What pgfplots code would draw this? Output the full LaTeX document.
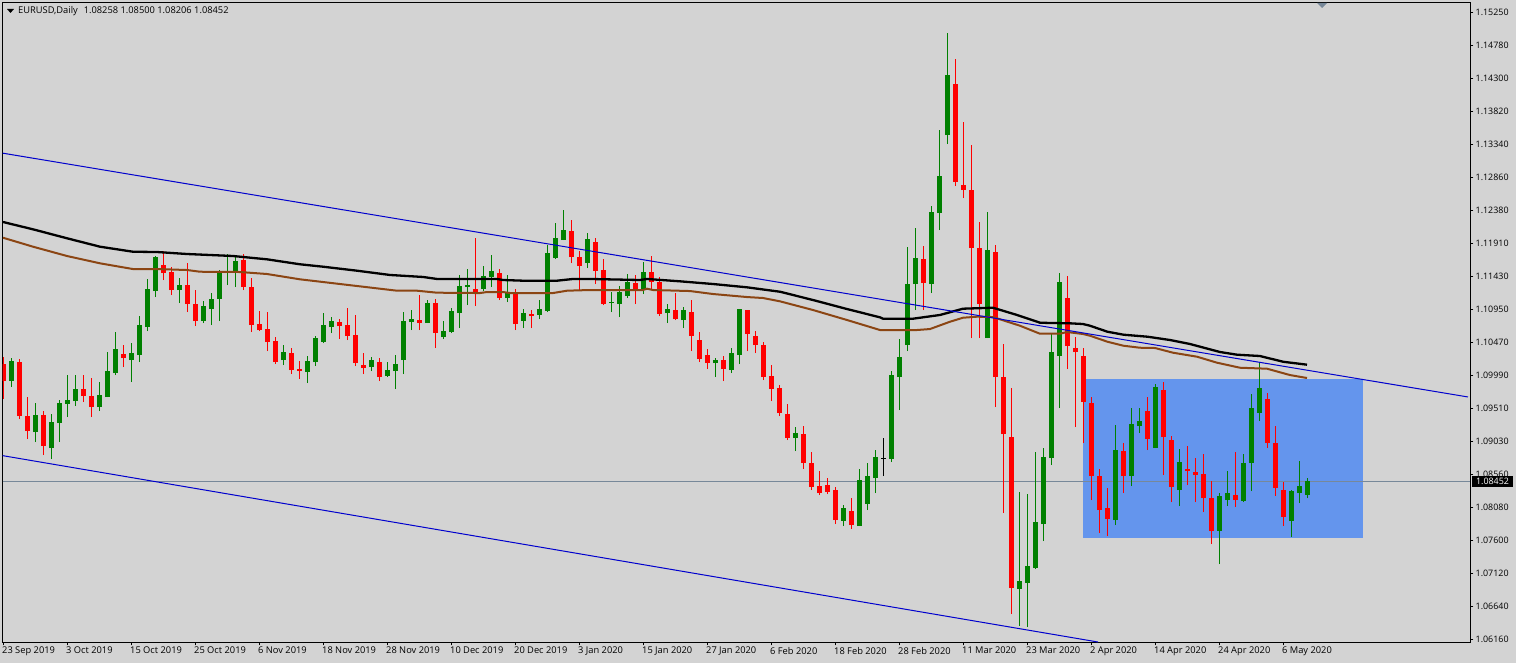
\documentclass[border=0pt]{standalone}
\usepackage{fontspec}
\setmainfont{Open Sans}
\usepackage{pgfplots}
\usepackage{pgfplotstable}
\pgfplotsset{compat=1.18}
\definecolor{chartbg}{RGB}{211,211,211}
\definecolor{upgreen}{RGB}{0,128,0}
\definecolor{downred}{RGB}{255,0,0}
\definecolor{boxblue}{RGB}{100,149,237}
\definecolor{trendblue}{RGB}{0,0,205}
\definecolor{maBrown}{RGB}{139,69,19}
\definecolor{slate}{RGB}{119,136,153}
\newcommand{\chartfont}{\fontsize{8.9}{11}\selectfont}
\newcommand{\datefont}{\fontsize{9.3}{11}\selectfont}
% columns: bar index, body top, body bottom, high, low
\pgfplotstableread{
i top bot high low
0 1.10153 1.09906 1.10254 1.09645
2 1.10182 1.09399 1.10225 1.09355
3 1.09399 1.09181 1.09674 1.09065
5 1.09413 1.08964 1.09471 1.08833
10 1.09790 1.09689 1.09993 1.09602
11 1.09689 1.09529 1.09950 1.09384
15 1.10298 1.10240 1.10428 1.10109
20 1.11588 1.11472 1.11791 1.11371
21 1.11487 1.11226 1.11559 1.11153
23 1.11298 1.11023 1.11617 1.10907
24 1.11023 1.10776 1.11226 1.10704
30 1.11661 1.11269 1.11748 1.11226
31 1.11269 1.10718 1.11400 1.10617
32 1.10733 1.10646 1.10921 1.10631
33 1.10660 1.10472 1.10907 1.10341
34 1.10486 1.10182 1.10544 1.10153
36 1.10312 1.10066 1.10385 1.10008
37 1.10080 1.10051 1.10196 1.09935
42 1.10762 1.10704 1.10805 1.10515
43 1.10718 1.10559 1.10965 1.10501
44 1.10573 1.10167 1.10863 1.10124
45 1.10138 1.10095 1.10312 1.10008
47 1.10182 1.09964 1.10240 1.09906
52 1.10791 1.10747 1.11153 1.10646
54 1.11037 1.10602 1.11095 1.10385
59 1.11240 1.11182 1.11980 1.10994
62 1.11472 1.11110 1.11530 1.11081
64 1.11182 1.10733 1.11240 1.10646
66 1.10878 1.10849 1.10936 1.10675
71 1.12081 1.11704 1.12241 1.11617
72 1.11704 1.11574 1.11791 1.11226
74 1.11922 1.11501 1.11980 1.11313
75 1.11516 1.11023 1.11675 1.11008
79 1.11327 1.11226 1.11443 1.11023
81 1.11487 1.11342 1.11719 1.11240
82 1.11342 1.10878 1.11414 1.10849
84 1.10936 1.10805 1.11182 1.10791
86 1.10907 1.10559 1.11081 1.10341
87 1.10501 1.10225 1.10617 1.10182
88 1.10283 1.10167 1.10370 1.10080
90 1.10211 1.10080 1.10269 1.09906
93 1.10936 1.10588 1.10936 1.10341
94 1.10559 1.10428 1.10631 1.10312
95 1.10428 1.09964 1.10472 1.09921
96 1.09979 1.09790 1.10138 1.09616
97 1.09805 1.09442 1.09848 1.09399
98 1.09428 1.09080 1.09573 1.09051
100 1.09138 1.08717 1.09254 1.08630
101 1.08717 1.08369 1.08877 1.08326
102 1.08384 1.08282 1.08601 1.08253
103 1.08398 1.08297 1.08500 1.08268
104 1.08326 1.07891 1.08369 1.07833
106 1.08021 1.07818 1.08210 1.07760
115 1.11675 1.11327 1.11864 1.10936
119 1.14213 1.12792 1.14575 1.12734
120 1.12748 1.12676 1.13662 1.12560
121 1.12676 1.11835 1.13328 1.10530
122 1.11835 1.11023 1.12212 1.10530
124 1.11777 1.09964 1.11878 1.09529
125 1.09964 1.09138 1.10443 1.07992
126 1.09094 1.06905 1.09805 1.06528
133 1.11110 1.10414 1.11429 1.10080
134 1.10385 1.10327 1.10544 1.09239
135 1.10269 1.09602 1.10385 1.09007
136 1.09587 1.08529 1.09674 1.08181
137 1.08529 1.08036 1.08630 1.07702
138 1.08065 1.07905 1.08355 1.07659
140 1.08891 1.08529 1.09007 1.08282
143 1.09471 1.09065 1.09674 1.08906
145 1.09776 1.09094 1.09892 1.08543
146 1.09051 1.08369 1.09109 1.08152
148 1.08630 1.08601 1.08964 1.08398
149 1.08587 1.08543 1.08790 1.08152
150 1.08558 1.08210 1.08848 1.08007
151 1.08210 1.07731 1.08456 1.07543
154 1.08253 1.08181 1.08877 1.08079
158 1.09645 1.09007 1.09732 1.08935
159 1.09007 1.08355 1.09254 1.08239
160 1.08326 1.07934 1.08442 1.07804
}\downbars
\pgfplotstableread{
i top bot high low
1 1.10196 1.09906 1.10240 1.09819
4 1.09413 1.09167 1.09587 1.09022
6 1.09312 1.08935 1.09428 1.08775
7 1.09587 1.09297 1.09631 1.09022
8 1.09631 1.09573 1.09993 1.09384
9 1.09790 1.09616 1.09993 1.09544
12 1.09703 1.09529 1.09892 1.09471
13 1.10051 1.09674 1.10327 1.09674
14 1.10370 1.10022 1.10617 1.09993
16 1.10312 1.10211 1.10457 1.09892
17 1.10718 1.10283 1.10849 1.10182
18 1.11240 1.10689 1.11385 1.10631
19 1.11704 1.11211 1.11719 1.11124
22 1.11298 1.11226 1.11400 1.11037
25 1.10994 1.10776 1.11066 1.10747
26 1.11095 1.10950 1.11182 1.10718
27 1.11472 1.11095 1.11516 1.10776
28 1.11501 1.11472 1.11748 1.11298
29 1.11646 1.11501 1.11719 1.11269
35 1.10327 1.10211 1.10428 1.10138
38 1.10196 1.10037 1.10269 1.09877
39 1.10530 1.10182 1.10559 1.10124
40 1.10718 1.10472 1.10892 1.10457
41 1.10776 1.10689 1.10834 1.10602
46 1.10211 1.10109 1.10254 1.10051
48 1.10066 1.09979 1.10182 1.09964
49 1.10153 1.10051 1.10283 1.09790
50 1.10776 1.10211 1.10907 1.10008
51 1.10805 1.10762 1.10936 1.10646
53 1.11037 1.10747 1.11081 1.10747
55 1.10631 1.10544 1.10776 1.10515
56 1.10921 1.10617 1.10965 1.10602
57 1.11284 1.10892 1.11443 1.10675
58 1.11298 1.11269 1.11530 1.11008
60 1.11429 1.11240 1.11574 1.11211
61 1.11501 1.11414 1.11733 1.11269
63 1.11182 1.11110 1.11443 1.11052
65 1.10892 1.10776 1.10950 1.10675
67 1.10950 1.10863 1.11081 1.10805
68 1.11762 1.10921 1.11878 1.10907
69 1.11980 1.11690 1.12197 1.11675
70 1.12096 1.11951 1.12386 1.11951
73 1.11965 1.11617 1.12052 1.11545
76 1.11052 1.11037 1.11197 1.10907
77 1.11197 1.11023 1.11284 1.10834
78 1.11342 1.11139 1.11458 1.11110
80 1.11487 1.11240 1.11632 1.11168
83 1.10950 1.10892 1.11023 1.10747
85 1.10936 1.10791 1.10979 1.10675
89 1.10211 1.10167 1.10240 1.09964
91 1.10312 1.10066 1.10385 1.10022
92 1.10950 1.10283 1.10950 1.10153
99 1.09152 1.09080 1.09239 1.08891
105 1.08065 1.07876 1.08108 1.07804
107 1.08471 1.07804 1.08630 1.07804
108 1.08529 1.08123 1.08717 1.08036
109 1.08804 1.08500 1.08906 1.08282
111 1.09993 1.08775 1.10051 1.08732
112 1.10254 1.09964 1.10515 1.09486
113 1.11313 1.10428 1.11849 1.10341
114 1.11690 1.11313 1.12125 1.10936
116 1.12357 1.11313 1.12444 1.11182
117 1.12879 1.12342 1.13546 1.12096
118 1.14343 1.13473 1.14952 1.13343
123 1.11806 1.10530 1.12357 1.10530
127 1.07006 1.06890 1.08297 1.06354
128 1.07224 1.06977 1.08268 1.06339
129 1.07862 1.07195 1.08877 1.07180
130 1.08804 1.07833 1.08935 1.07586
131 1.10327 1.08790 1.10588 1.08688
132 1.11342 1.10269 1.11472 1.09515
139 1.08906 1.07891 1.09268 1.07818
141 1.09283 1.08529 1.09515 1.08384
142 1.09326 1.09254 1.09515 1.09152
144 1.09819 1.08935 1.09863 1.08935
147 1.08732 1.08326 1.08920 1.08094
152 1.08239 1.07731 1.08282 1.07253
153 1.08282 1.08181 1.08601 1.08094
155 1.08717 1.08166 1.08848 1.08152
156 1.09515 1.08717 1.09718 1.08311
157 1.09805 1.09442 1.10182 1.09326
161 1.08311 1.07876 1.08326 1.07644
162 1.08384 1.08282 1.08746 1.08137
163 1.08452 1.08258 1.08500 1.08206
}\upbars
\pgfplotstableread{
i top bot high low
110 1.08797 1.08783 1.09080 1.08529
}\dojibars
\pgfplotstableread{
i v
-0.06 1.12212
3.69 1.12106
7.94 1.11976
12.06 1.11854
16.19 1.11781
19.19 1.11777
22.94 1.11748
28.69 1.11719
32.94 1.11671
37.06 1.11599
39.94 1.11564
44.19 1.11506
48.31 1.11444
52.44 1.11415
54.19 1.11386
61.69 1.11386
62.44 1.11371
64.94 1.11361
69.19 1.11361
71.19 1.11386
73.31 1.11386
79.56 1.11371
80.44 1.11386
84.56 1.11352
88.69 1.11313
92.94 1.11265
97.06 1.11201
101.19 1.11081
105.44 1.10950
109.56 1.10830
109.94 1.10810
113.69 1.10810
117.06 1.10864
119.94 1.10955
123.69 1.10969
126.69 1.10864
129.56 1.10752
130.81 1.10748
133.31 1.10743
134.94 1.10733
135.81 1.10708
138.00 1.10621
140.00 1.10578
143.00 1.10549
145.81 1.10501
148.31 1.10443
152.06 1.10327
154.19 1.10288
157.06 1.10269
159.94 1.10186
162.94 1.10143
}\blackma
\pgfplotstableread{
i v
-0.06 1.11984
3.69 1.11854
7.94 1.11719
12.06 1.11613
16.19 1.11530
19.19 1.11530
22.94 1.11516
24.56 1.11491
29.56 1.11487
32.94 1.11458
37.06 1.11381
39.94 1.11342
44.19 1.11284
49.19 1.11216
51.69 1.11216
54.19 1.11187
59.56 1.11182
60.44 1.11197
62.44 1.11197
63.31 1.11182
68.69 1.11182
70.44 1.11216
73.31 1.11226
79.94 1.11226
80.44 1.11245
81.19 1.11226
85.81 1.11211
88.69 1.11168
92.94 1.11124
94.94 1.11110
97.06 1.11062
101.19 1.10936
105.44 1.10791
109.56 1.10646
114.19 1.10646
115.81 1.10660
118.31 1.10766
119.94 1.10824
121.69 1.10839
123.69 1.10834
127.06 1.10708
129.56 1.10592
132.06 1.10592
132.94 1.10617
134.94 1.10588
135.81 1.10563
138.00 1.10476
140.00 1.10418
142.06 1.10389
143.94 1.10385
146.19 1.10317
149.19 1.10259
151.69 1.10172
154.56 1.10099
157.94 1.10085
160.81 1.09993
162.94 1.09950
}\brownma
\newcommand{\bars}[2]{%
  \addplot[draw=none,mark=none,forget plot,error bars/.cd,y dir=plus,y explicit,error mark=none,
    error bar style={draw=#2,line width=1pt,solid}]
    table[x=i,y=low,y error plus expr=\thisrow{high}-\thisrow{low}] {#1};
  \addplot[draw=none,mark=none,forget plot,error bars/.cd,y dir=plus,y explicit,error mark=none,
    error bar style={draw=#2,line width=5pt,solid}]
    table[x=i,y=bot,y error plus expr=\thisrow{top}-\thisrow{bot}] {#1};
}
\begin{document}
\begin{tikzpicture}[x=1pt,y=1pt]
\fill[chartbg] (0,0) rectangle (1516,663);
\begin{axis}[
  at={(2.5pt,20.5pt)},anchor=south west,
  scale only axis,width=1468pt,height=640pt,
  xmin=-0.125,xmax=183.375,ymin=1.06115,ymax=1.15395,
  axis line style={black,line width=1pt},
  tick align=outside,major tick length=3pt,
  tick style={black,line width=1pt},
  xtick pos=bottom,ytick pos=right,yticklabel pos=right,
  xtick={0,8,16,24,32,40,48,56,64,72,80,88,96,104,112,120,128,136,144,152,160},
  xticklabels={23 Sep 2019,3 Oct 2019,15 Oct 2019,25 Oct 2019,6 Nov 2019,18 Nov 2019,28 Nov 2019,10 Dec 2019,20 Dec 2019,3 Jan 2020,15 Jan 2020,27 Jan 2020,6 Feb 2020,18 Feb 2020,28 Feb 2020,11 Mar 2020,23 Mar 2020,2 Apr 2020,14 Apr 2020,24 Apr 2020,6 May 2020},
  ytick={1.15251,1.147725,1.14294,1.138155,1.13337,1.128585,1.1238,1.119015,1.11423,1.109445,1.10466,1.099875,1.09509,1.090305,1.08552,1.080735,1.07595,1.071165,1.06638,1.061595},
  yticklabels={1.15250,1.14780,1.14300,1.13820,1.13340,1.12860,1.12380,1.11910,1.11430,1.10950,1.10470,1.09990,1.09510,1.09030,1.08560,1.08080,1.07600,1.07120,1.06640,1.06160},
  xticklabel style={font=\datefont,anchor=north west,inner sep=0pt,xshift=-1.5pt,yshift=-1.5pt},
  yticklabel style={font=\chartfont,anchor=west,inner sep=0pt,xshift=2pt},
  clip=true,
]
\addplot[fill=boxblue,draw=none,forget plot] coordinates {(134.94,1.09935) (170.0,1.09935) (170.0,1.07637) (134.94,1.07637)} -- cycle;
\addplot[slate,line width=1pt,forget plot] coordinates {(-0.125,1.08452) (183.375,1.08452)};
\bars{\downbars}{downred}
\bars{\upbars}{upgreen}
\bars{\dojibars}{black}
\addplot[black,line width=2.3pt,forget plot] table[x=i,y=v] {\blackma};
\addplot[maBrown,line width=2pt,forget plot] table[x=i,y=v] {\brownma};
\addplot[trendblue,line width=1pt,forget plot] coordinates {(-0.1875,1.13212) (183.06,1.09675)};
\addplot[trendblue,line width=1pt,forget plot] coordinates {(-0.1875,1.08826) (136.81,1.06122)};
\end{axis}
% header, price tag and the small marker on the top edge
\fill[black] (7,654) -- (14,654) -- (10.5,650) -- cycle;
\node[anchor=base west,inner sep=0pt,font=\datefont] at (18,649) {EURUSD,Daily\hspace{6pt}1.08258 1.08500 1.08206 1.08452};
\fill[slate] (1317,660) -- (1327,660) -- (1322,655) -- cycle;
\fill[black] (1472,176) rectangle (1513,187);
\node[white,inner sep=0pt,font=\chartfont] at (1492.5,181.5) {1.08452};
\end{tikzpicture}
\end{document}
